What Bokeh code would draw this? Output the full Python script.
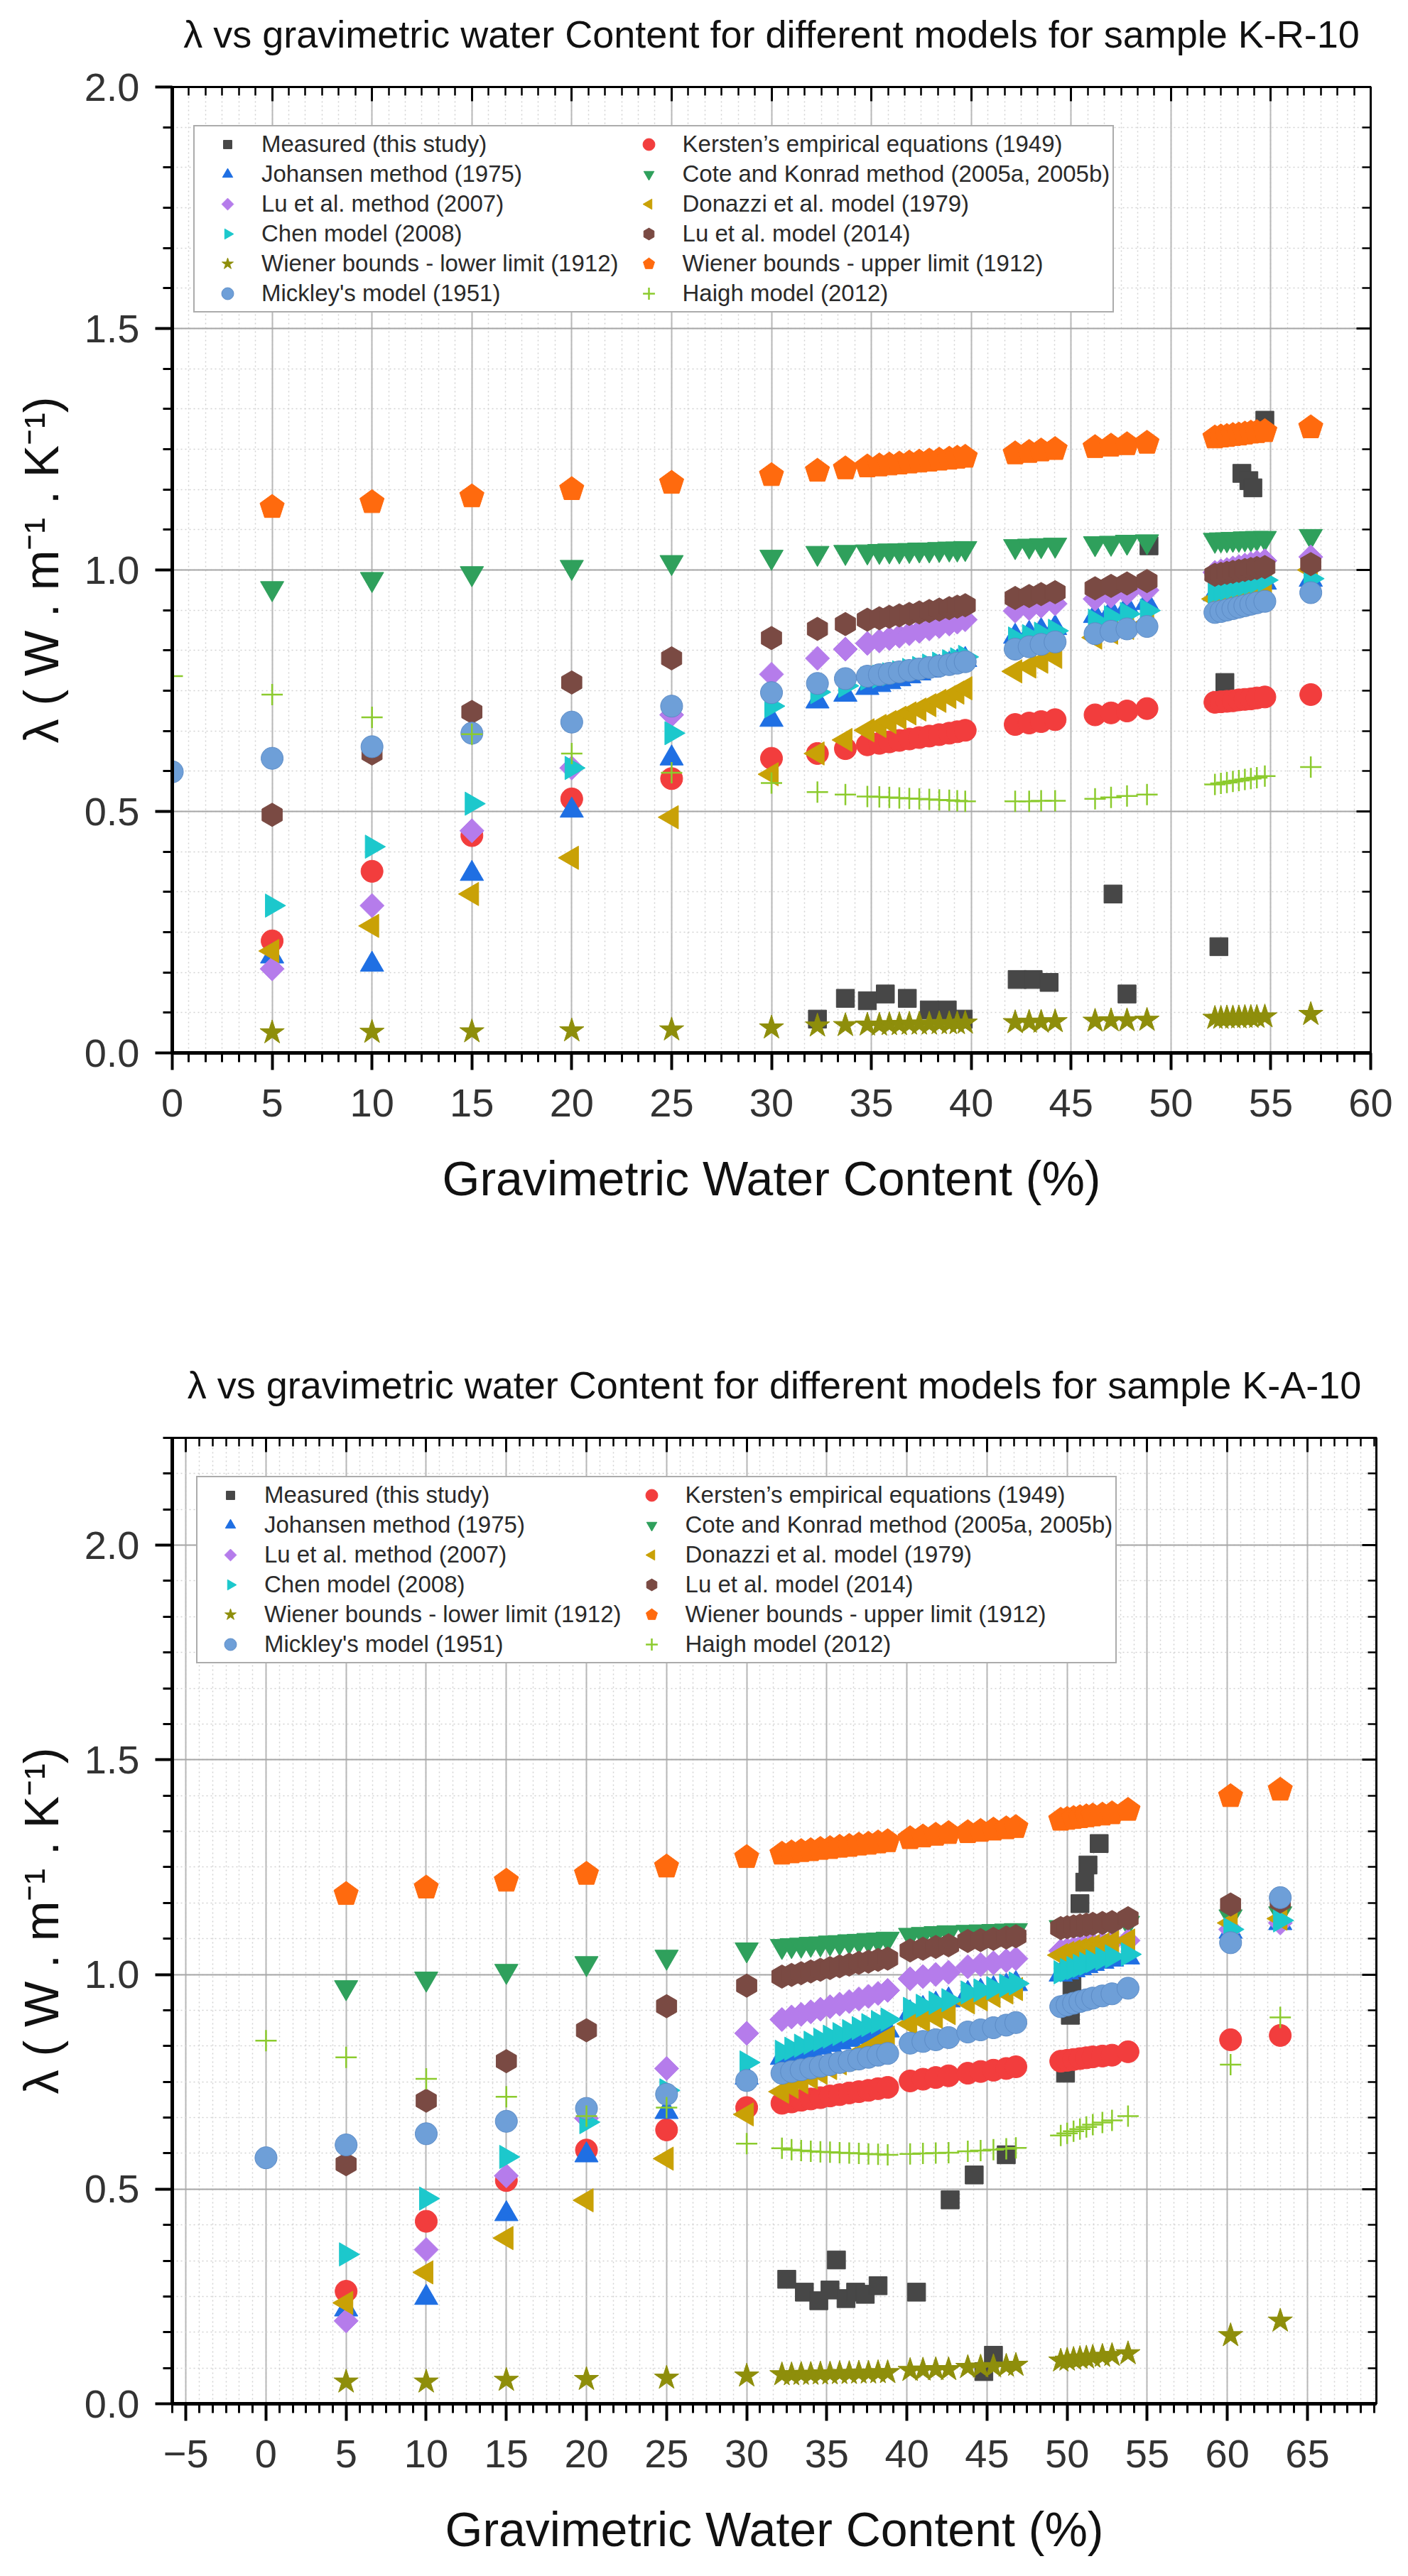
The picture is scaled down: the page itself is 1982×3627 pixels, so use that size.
import math
from bokeh.plotting import figure
from bokeh.models import (ColumnDataSource, Legend, LegendItem, LinearAxis, Range1d,
                          SingleIntervalTicker, PrintfTickFormatter, CustomJSTickFormatter)
from bokeh.layouts import column
from bokeh.embed import file_html
from bokeh.resources import INLINE

nan = float("nan")

# ---------------- legend labels ----------------
LABELS = {
    "meas": "Measured (this study)",
    "kersten": "Kersten\u2019s empirical equations (1949)",
    "johansen": "Johansen method (1975)",
    "cote": "Cote and Konrad method (2005a, 2005b)",
    "lu07": "Lu et al. method (2007)",
    "donazzi": "Donazzi et al. model (1979)",
    "chen": "Chen model (2008)",
    "lu14": "Lu et al. model (2014)",
    "wlow": "Wiener bounds - lower limit (1912)",
    "wup": "Wiener bounds - upper limit (1912)",
    "mickley": "Mickley's model (1951)",
    "haigh": "Haigh model (2012)",
}
LEFT_COL = ["meas", "johansen", "lu07", "chen", "wlow", "mickley"]
RIGHT_COL = ["kersten", "cote", "donazzi", "lu14", "wup", "haigh"]
DRAW_ORDER = ["kersten", "johansen", "cote", "lu07", "donazzi", "chen",
              "lu14", "wlow", "wup", "mickley", "haigh"]

TITLE1 = "\u03bb vs gravimetric water Content for different models for sample K-R-10"
TITLE2 = "\u03bb vs gravimetric water Content for different models for sample K-A-10"
XLABEL = "Gravimetric Water Content (%)"
YLABEL = "\u03bb ( W . m\u207b\u00b9 . K\u207b\u00b9)"

# ---------------- sample K-R-10 ----------------
X1 = [0, 5, 10, 15, 20, 25, 30, 32.3, 33.7,
      34.8, 35.4, 35.9, 36.4, 36.9, 37.4, 37.9, 38.4, 38.9, 39.3, 39.7,
      42.2, 42.9, 43.5, 44.2,
      46.2, 47.0, 47.8, 48.8,
      52.2, 52.5, 52.8, 53.1, 53.4, 53.7, 54.0, 54.3, 54.7,
      57.0]
KERSTEN1 = [nan, 0.232, 0.376, 0.450, 0.526, 0.568, 0.610, 0.620, 0.630,
            0.638, 0.641, 0.644, 0.647, 0.650, 0.653, 0.656, 0.659, 0.662, 0.665, 0.668,
            0.680, 0.683, 0.686, 0.690,
            0.700, 0.704, 0.708, 0.713,
            0.726, 0.727, 0.728, 0.729, 0.731, 0.732, 0.733, 0.735, 0.737,
            0.742]
JOHANSEN1 = [nan, 0.200, 0.183, 0.371, 0.502, 0.610, 0.690, 0.728, 0.742,
             0.756, 0.762, 0.768, 0.774, 0.780, 0.786, 0.792, 0.798, 0.804, 0.809, 0.814,
             0.862, 0.868, 0.874, 0.880,
             0.905, 0.914, 0.923, 0.932,
             0.950, 0.953, 0.956, 0.959, 0.962, 0.965, 0.968, 0.971, 0.974,
             0.980]
COTE1 = [nan, 0.962, 0.981, 0.993, 1.006, 1.016, 1.027, 1.035, 1.037,
         1.038, 1.039, 1.040, 1.040, 1.041, 1.042, 1.042, 1.043, 1.044, 1.044, 1.045,
         1.049, 1.050, 1.051, 1.052,
         1.055, 1.056, 1.058, 1.059,
         1.062, 1.063, 1.063, 1.064, 1.064, 1.065, 1.065, 1.066, 1.066,
         1.070]
LU07_1 = [nan, 0.174, 0.305, 0.460, 0.590, 0.700, 0.784, 0.817, 0.836,
          0.848, 0.853, 0.858, 0.863, 0.868, 0.873, 0.878, 0.883, 0.888, 0.892, 0.897,
          0.915, 0.920, 0.925, 0.930,
          0.940, 0.946, 0.952, 0.958,
          0.995, 0.998, 1.001, 1.004, 1.007, 1.010, 1.013, 1.016, 1.019,
          1.027]
DONAZZI1 = [nan, 0.211, 0.263, 0.329, 0.404, 0.488, 0.577, 0.620, 0.648,
            0.668, 0.677, 0.685, 0.694, 0.703, 0.711, 0.720, 0.729, 0.737, 0.746, 0.755,
            0.790, 0.800, 0.810, 0.820,
            0.860, 0.870, 0.880, 0.890,
            0.940, 0.944, 0.948, 0.952, 0.956, 0.960, 0.964, 0.968, 0.972,
            1.000]
CHEN1 = [nan, 0.305, 0.427, 0.516, 0.590, 0.662, 0.718, 0.747, 0.760,
         0.775, 0.779, 0.784, 0.788, 0.793, 0.797, 0.802, 0.806, 0.811, 0.815, 0.820,
         0.858, 0.863, 0.868, 0.874,
         0.895, 0.902, 0.909, 0.916,
         0.955, 0.958, 0.961, 0.964, 0.967, 0.970, 0.973, 0.976, 0.979,
         0.982]
LU14_1 = [nan, 0.493, 0.620, 0.706, 0.767, 0.817, 0.859, 0.878, 0.888,
          0.897, 0.900, 0.903, 0.906, 0.909, 0.912, 0.915, 0.918, 0.921, 0.924, 0.927,
          0.942, 0.946, 0.950, 0.954,
          0.962, 0.967, 0.972, 0.977,
          0.990, 0.992, 0.994, 0.996, 0.998, 1.000, 1.002, 1.004, 1.006,
          1.012]
WLOW1 = [nan, 0.042, 0.043, 0.044, 0.046, 0.048, 0.052, 0.056, 0.057,
         0.058, 0.058, 0.059, 0.059, 0.060, 0.060, 0.060, 0.061, 0.061, 0.061, 0.062,
         0.063, 0.064, 0.064, 0.065,
         0.066, 0.067, 0.067, 0.068,
         0.072, 0.072, 0.073, 0.073, 0.073, 0.074, 0.074, 0.074, 0.075,
         0.080]
WUP1 = [nan, 1.130, 1.140, 1.152, 1.167, 1.180, 1.196, 1.205, 1.210,
        1.214, 1.216, 1.218, 1.220, 1.222, 1.224, 1.226, 1.228, 1.230, 1.232, 1.234,
        1.241, 1.244, 1.247, 1.250,
        1.254, 1.257, 1.260, 1.263,
        1.274, 1.276, 1.277, 1.279, 1.280, 1.282, 1.284, 1.285, 1.287,
        1.295]
MICKLEY1 = [0.582, 0.610, 0.634, 0.662, 0.685, 0.718, 0.746, 0.765, 0.775,
            0.780, 0.783, 0.786, 0.789, 0.792, 0.795, 0.798, 0.801, 0.804, 0.807, 0.810,
            0.836, 0.841, 0.846, 0.851,
            0.868, 0.873, 0.878, 0.883,
            0.912, 0.914, 0.917, 0.920, 0.923, 0.926, 0.929, 0.932, 0.935,
            0.953]
HAIGH1 = [0.780, 0.742, 0.695, 0.660, 0.620, 0.580, 0.559, 0.540, 0.535,
          0.531, 0.530, 0.529, 0.528, 0.527, 0.526, 0.525, 0.524, 0.523, 0.522, 0.521,
          0.521, 0.521, 0.522, 0.522,
          0.526, 0.529, 0.532, 0.535,
          0.556, 0.558, 0.560, 0.562, 0.564, 0.566, 0.568, 0.570, 0.573,
          0.592]
MEAS_X1 = [32.3, 33.7, 34.8, 35.7, 36.8, 37.9, 38.8, 39.6, 42.3, 43.1, 43.9,
           47.1, 47.8, 48.9, 52.4, 52.7, 53.55, 53.9, 54.1, 54.7]
MEAS_Y1 = [0.070, 0.113, 0.108, 0.122, 0.113, 0.089, 0.089, 0.070, 0.152, 0.152, 0.146,
           0.329, 0.122, 1.050, 0.220, 0.767, 1.200, 1.185, 1.170, 1.310]

# ---------------- sample K-A-10 ----------------
X2 = [0, 5, 10, 15, 20, 25, 30,
      32.2, 32.8, 33.4, 34.0, 34.6, 35.2, 35.8, 36.4, 37.0, 37.6, 38.2, 38.8,
      40.2, 41.0, 41.8, 42.6,
      43.8, 44.6, 45.4, 46.2, 46.8,
      49.6, 50.0, 50.4, 50.8, 51.2, 51.6, 52.2, 52.8,
      53.8, 60.2, 63.3]
KERSTEN2 = [nan, 0.262, 0.425, 0.520, 0.591, 0.638, 0.690,
            0.700, 0.703, 0.707, 0.710, 0.713, 0.717, 0.720, 0.724, 0.727, 0.730, 0.734, 0.737,
            0.752, 0.756, 0.760, 0.764,
            0.770, 0.774, 0.777, 0.781, 0.785,
            0.798, 0.800, 0.802, 0.804, 0.806, 0.808, 0.810, 0.812,
            0.820, 0.848, 0.858]
JOHANSEN2 = [nan, 0.220, 0.247, 0.442, 0.579, 0.680, 0.760,
             0.806, 0.812, 0.818, 0.824, 0.830, 0.836, 0.842, 0.848, 0.854, 0.859, 0.864, 0.870,
             0.910, 0.920, 0.930, 0.940,
             0.955, 0.960, 0.966, 0.972, 0.978,
             1.000, 1.005, 1.010, 1.015, 1.020, 1.025, 1.030, 1.035,
             1.040, 1.100, 1.120]
COTE2 = [nan, 0.970, 0.990, 1.008, 1.026, 1.041, 1.058,
         1.066, 1.068, 1.069, 1.071, 1.072, 1.074, 1.075, 1.077, 1.078, 1.080, 1.081, 1.083,
         1.092, 1.094, 1.096, 1.098,
         1.099, 1.100, 1.101, 1.102, 1.103,
         1.110, 1.111, 1.112, 1.113, 1.114, 1.115, 1.116, 1.117,
         1.120, 1.135, 1.142]
LU07_2 = [nan, 0.193, 0.359, 0.531, 0.665, 0.781, 0.863,
          0.895, 0.901, 0.907, 0.913, 0.919, 0.925, 0.931, 0.937, 0.943, 0.949, 0.956, 0.963,
          0.990, 0.995, 1.000, 1.005,
          1.018, 1.023, 1.027, 1.032, 1.037,
          1.055, 1.058, 1.061, 1.064, 1.067, 1.070, 1.073, 1.076,
          1.079, 1.105, 1.120]
DONAZZI2 = [nan, 0.235, 0.306, 0.386, 0.474, 0.571, 0.674,
            0.727, 0.738, 0.749, 0.760, 0.771, 0.782, 0.793, 0.804, 0.815, 0.827, 0.840, 0.853,
            0.885, 0.893, 0.901, 0.910,
            0.935, 0.942, 0.950, 0.958, 0.966,
            1.045, 1.050, 1.054, 1.058, 1.062, 1.066, 1.070, 1.075,
            1.079, 1.120, 1.130]
CHEN2 = [nan, 0.348, 0.478, 0.575, 0.656, 0.730, 0.795,
         0.820, 0.827, 0.834, 0.841, 0.848, 0.855, 0.861, 0.868, 0.875, 0.882, 0.889, 0.895,
         0.920, 0.927, 0.934, 0.940,
         0.958, 0.963, 0.968, 0.974, 0.979,
         1.005, 1.010, 1.015, 1.020, 1.025, 1.031, 1.037, 1.042,
         1.047, 1.105, 1.126]
LU14_2 = [nan, 0.558, 0.706, 0.798, 0.870, 0.926, 0.974,
          0.995, 0.999, 1.003, 1.007, 1.011, 1.015, 1.019, 1.023, 1.027, 1.030, 1.034, 1.037,
          1.056, 1.060, 1.064, 1.068,
          1.078, 1.080, 1.083, 1.086, 1.089,
          1.108, 1.110, 1.112, 1.114, 1.116, 1.118, 1.120, 1.122,
          1.131, 1.163, 1.170]
WLOW2 = [nan, 0.051, 0.051, 0.055, 0.057, 0.060, 0.065,
         0.068, 0.068, 0.069, 0.069, 0.070, 0.070, 0.071, 0.071, 0.072, 0.072, 0.073, 0.073,
         0.078, 0.079, 0.080, 0.080,
         0.085, 0.086, 0.087, 0.088, 0.090,
         0.100, 0.102, 0.104, 0.106, 0.107, 0.109, 0.111, 0.113,
         0.117, 0.159, 0.193]
WUP2 = [nan, 1.187, 1.202, 1.218, 1.234, 1.251, 1.273,
        1.281, 1.284, 1.287, 1.289, 1.292, 1.294, 1.297, 1.299, 1.302, 1.304, 1.307, 1.310,
        1.317, 1.321, 1.325, 1.329,
        1.331, 1.334, 1.337, 1.340, 1.343,
        1.360, 1.362, 1.364, 1.366, 1.368, 1.370, 1.372, 1.375,
        1.383, 1.415, 1.430]
MICKLEY2 = [0.573, 0.603, 0.629, 0.658, 0.688, 0.721, 0.753,
            0.770, 0.774, 0.778, 0.782, 0.786, 0.790, 0.795, 0.799, 0.803, 0.807, 0.812, 0.816,
            0.840, 0.844, 0.848, 0.853,
            0.866, 0.871, 0.876, 0.882, 0.888,
            0.925, 0.929, 0.933, 0.937, 0.941, 0.945, 0.950, 0.955,
            0.968, 1.074, 1.179]
HAIGH2 = [0.846, 0.807, 0.757, 0.715, 0.670, 0.690, 0.606,
          0.595, 0.592, 0.590, 0.588, 0.587, 0.586, 0.585, 0.584, 0.583, 0.582, 0.581, 0.580,
          0.582, 0.583, 0.584, 0.585,
          0.588, 0.590, 0.592, 0.594, 0.596,
          0.625, 0.630, 0.635, 0.640, 0.645, 0.650, 0.655, 0.660,
          0.670, 0.790, 0.900]
MEAS_X2 = [32.5, 33.6, 34.5, 35.2, 35.6, 36.2, 36.8, 37.4, 38.2, 40.6, 42.7, 44.2,
           44.8, 45.4, 46.2, 49.9, 50.2, 50.3, 50.4, 50.8, 51.1, 51.3, 52.0]
MEAS_Y2 = [0.290, 0.260, 0.240, 0.265, 0.335, 0.245, 0.260, 0.255, 0.275, 0.260, 0.475, 0.533,
           0.075, 0.113, 0.580, 0.770, 0.905, 0.975, 1.110, 1.165, 1.215, 1.255, 1.305]

# ---------------- styles ----------------
FONT = "Liberation Sans"
# polygon markers drawn as n-gons (radius in screen pixels)
NGON = {
    "meas": dict(n=4, angle=math.pi / 4, radius=18, color="#474747"),
    "kersten": dict(n=40, angle=0, radius=15.5, color="#F23D3D"),
    "johansen": dict(n=3, angle=0, radius=19, color="#1F6FE3"),
    "cote": dict(n=3, angle=math.pi, radius=19, color="#2FA05C"),
    "lu07": dict(n=4, angle=0, radius=17, color="#B57CEB"),
    "donazzi": dict(n=3, angle=math.pi / 2, radius=19, color="#C9A106"),
    "chen": dict(n=3, angle=-math.pi / 2, radius=19, color="#1CC8CC"),
    "lu14": dict(n=6, angle=0, radius=16.5, color="#7A4A43"),
    "wup": dict(n=5, angle=0, radius=18, color="#FF6A0E"),
    "mickley": dict(n=40, angle=0, radius=15.5, color="#6E9FD8"),
}
SCATTER = {
    "wlow": dict(marker="star", size=36, fill_color="#8E8E0B", line_color="#8E8E0B"),
    "haigh": dict(marker="cross", size=30, line_color="#8CCB2E", line_width=2.5),
}


def draw(p, src, xcol, ycol, key):
    if key in NGON:
        s = NGON[key]
        line = "#5B8BC6" if key == "mickley" else s["color"]
        return p.ngon(x=xcol, y=ycol, source=src, radius=s["radius"], radius_units="screen",
                      n=s["n"], angle=s["angle"], fill_color=s["color"], line_color=line)
    return p.scatter(x=xcol, y=ycol, source=src, **SCATTER[key])


def build(title, xr, frame, borders, X, series, MX, MY, legend_loc):
    fw, fh = frame
    bl, br, bt, bb = borders
    p = figure(frame_width=fw, frame_height=fh,
               x_range=Range1d(*xr), y_range=Range1d(0, series["yend"]),
               output_backend="svg", toolbar_location=None, title_location=None,
               min_border_left=bl, min_border_right=br,
               min_border_top=bt, min_border_bottom=bb,
               background_fill_color="white", border_fill_color="white")
    p.outline_line_color = "black"
    p.outline_line_width = 3

    xt = SingleIntervalTicker(interval=5, num_minor_ticks=6)
    yt = SingleIntervalTicker(interval=0.5, num_minor_ticks=6)

    xa = p.xaxis[0]
    ya = p.yaxis[0]
    xa.ticker = xt
    ya.ticker = yt
    ya.formatter = PrintfTickFormatter(format="%.1f")
    xa.axis_label = XLABEL
    ya.axis_label = YLABEL
    for ax in (xa, ya):
        ax.axis_line_width = 5
        ax.axis_line_color = "black"
        ax.major_tick_line_width = 4
        ax.minor_tick_line_width = 3
        ax.major_tick_out = 24
        ax.major_tick_in = 0
        ax.minor_tick_out = 13
        ax.minor_tick_in = 0
        ax.major_label_text_font = FONT
        ax.major_label_text_font_size = "56px"
        ax.major_label_text_color = "#333333"
        ax.axis_label_text_font = FONT
        ax.axis_label_text_font_size = "68px"
        ax.axis_label_text_font_style = "normal"
        ax.axis_label_text_color = "#111111"
    xa.major_label_standoff = 27
    ya.major_label_standoff = 22
    xa.axis_label_standoff = 46
    ya.axis_label_standoff = 20

    # top axis carries the chart title as its label; right axis mirrors ticks
    top = LinearAxis(ticker=xt, formatter=CustomJSTickFormatter(code="return ''"))
    right = LinearAxis(ticker=yt, formatter=CustomJSTickFormatter(code="return ''"))
    for ax in (top, right):
        ax.axis_line_width = 3
        ax.axis_line_color = "black"
        ax.major_tick_line_width = 3
        ax.minor_tick_line_width = 2.5
        ax.major_tick_in = 20
        ax.major_tick_out = 0
        ax.minor_tick_in = 12
        ax.minor_tick_out = 0
        ax.major_label_text_font_size = "8px"
        ax.major_label_standoff = 0
    top.axis_label = title
    top.axis_label_text_font = FONT
    top.axis_label_text_font_size = "54px"
    top.axis_label_text_font_style = "normal"
    top.axis_label_text_color = "#111111"
    top.axis_label_standoff = 45
    p.add_layout(top, "above")
    p.add_layout(right, "right")

    for g in (p.xgrid[0], p.ygrid[0]):
        g.grid_line_color = "#B8B8B8"
        g.grid_line_width = 2
        g.minor_grid_line_color = "#D2D2D2"
        g.minor_grid_line_width = 1.5
        g.minor_grid_line_dash = "2 4"
    p.ygrid[0].grid_line_color = "#A6A6A6"

    data = dict(x=X)
    for k in DRAW_ORDER:
        data[k] = series[k]
    src = ColumnDataSource(data)
    msrc = ColumnDataSource(dict(x=MX, y=MY))

    rends = {"meas": draw(p, msrc, "x", "y", "meas")}
    for k in DRAW_ORDER:
        rends[k] = draw(p, src, "x", k, k)

    items = [LegendItem(label=LABELS[k], renderers=[rends[k]]) for k in LEFT_COL + RIGHT_COL]
    legend = Legend(items=items, location=legend_loc, ncols=2, orientation="vertical",
                    label_text_font=FONT, label_text_font_size="33px",
                    label_text_color="#2A2A2A", glyph_width=84, glyph_height=42,
                    label_height=42, label_standoff=6, spacing=0, padding=4, margin=0,
                    border_line_color="#5A5A5A", border_line_width=2,
                    background_fill_color="white", background_fill_alpha=1.0)
    p.add_layout(legend)
    return p


S1 = dict(kersten=KERSTEN1, johansen=JOHANSEN1, cote=COTE1, lu07=LU07_1, donazzi=DONAZZI1,
          chen=CHEN1, lu14=LU14_1, wlow=WLOW1, wup=WUP1, mickley=MICKLEY1, haigh=HAIGH1,
          yend=2.0)
S2 = dict(kersten=KERSTEN2, johansen=JOHANSEN2, cote=COTE2, lu07=LU07_2, donazzi=DONAZZI2,
          chen=CHEN2, lu14=LU14_2, wlow=WLOW2, wup=WUP2, mickley=MICKLEY2, haigh=HAIGH2,
          yend=2.25)

p1 = build(TITLE1, (0, 60), (1687, 1360), (232, 47, 122, 420), X1, S1, MEAS_X1, MEAS_Y1,
           (30, 1042))
p2 = build(TITLE2, (-5.85, 69.3), (1695, 1360), (242, 29, 122, 227), X2, S2, MEAS_X2, MEAS_Y2,
           (34, 1042))

page = column(p1, p2, spacing=0)
open("out.html", "w").write(file_html(page, INLINE, title="lambda vs water content"))
